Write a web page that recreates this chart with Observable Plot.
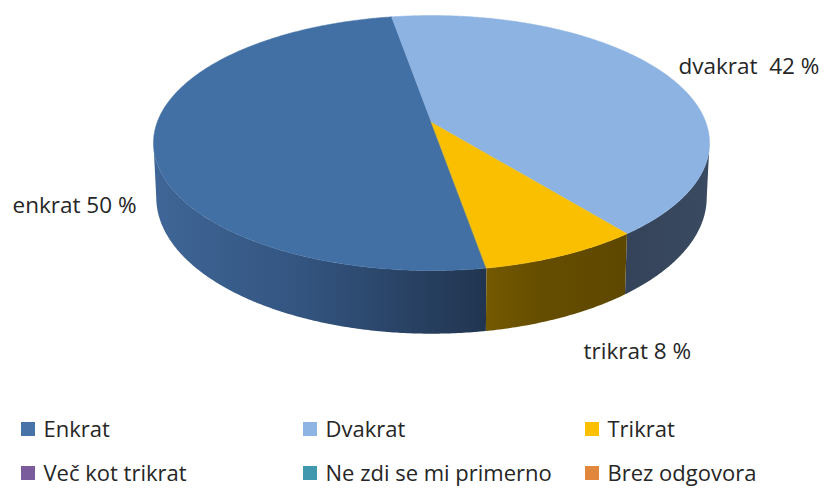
<!DOCTYPE html>
<html>
<head>
<meta charset="utf-8">
<script src="https://cdn.jsdelivr.net/npm/d3@7"></script>
<script src="https://cdn.jsdelivr.net/npm/@observablehq/plot@0.6"></script>
<style>
  html, body { margin: 0; padding: 0; background: #fff; }
  #chart svg { display: block; }
</style>
</head>
<body>
<div id="chart"></div>
<script>
// ---- data ----
const categories = ["Enkrat", "Dvakrat", "Trikrat", "Več kot trikrat", "Ne zdi se mi primerno", "Brez odgovora"];
const values = [50, 42, 8, 0, 0, 0];
const sliceLabels = ["enkrat 50 %", "dvakrat  42 %", "trikrat 8 %"];

// ---- styles ----
const topColors = ["#4370a4", "#8db3e2", "#fac000"];
const wallFills = ["url(#gEnk)", "url(#gDva)", "url(#gTri)"];
const legendColors = ["#4773a8", "#8db4e2", "#fdc000", "#7a5c9c", "#4098ae", "#e0873d"];
const font = "'Open Sans', 'DejaVu Sans', sans-serif";

// ---- perspective pie geometry ----
const W = 827, H = 488;
const cx = 431, cy = 122;     // projected centre of the top disc
const s = 274.4, s2 = 124.2;  // horizontal / vertical radius scale
const k = 0.161;              // perspective strength
const depth = 53;             // wall depth
const rad = Math.PI / 180;
const startDeg = 80.3;

function P(deg, z) {
  const t = deg * rad;
  const den = 1 - k * Math.sin(t);
  const f = z ? 0.99 : 1;
  return {
    x: cx + f * s * Math.cos(t) / den,
    y: cy + s2 * Math.sin(t) / den + z * depth / den
  };
}
function arc(a0, a1, z) {
  const pts = [];
  const n = Math.max(2, Math.ceil(Math.abs(a1 - a0) / 0.5));
  for (let i = 0; i <= n; i++) pts.push(P(a0 + (a1 - a0) * i / n, z));
  return pts;
}

const total = d3.sum(values);
const slices = [];
let acc = startDeg;
values.forEach((v, i) => {
  if (v <= 0) return;
  const a0 = acc, a1 = acc + v / total * 360;
  acc = a1;
  slices.push({i, a0, a1});
});

const visLo = Math.asin(k) / rad, visHi = 180 - visLo;
const marks = [];

// walls
slices.forEach(({i, a0, a1}) => {
  for (const off of [0, 360]) {
    const lo = Math.max(a0, visLo + off), hi = Math.min(a1, visHi + off);
    if (hi > lo) {
      const pts = [...arc(lo, hi, 0), ...arc(hi, lo, 1)];
      marks.push(Plot.line(pts, {x: "x", y: "y", curve: "linear-closed", fill: wallFills[i], stroke: "none"}));
    }
  }
});
// top faces
slices.forEach(({i, a0, a1}) => {
  const pts = [{x: cx, y: cy}, ...arc(a0, a1, 0)];
  marks.push(Plot.line(pts, {x: "x", y: "y", curve: "linear-closed", fill: topColors[i], stroke: topColors[i], strokeWidth: 0.5}));
});

// slice labels (layout)
const labelPos = [{x: 12, y: 205}, {x: 678, y: 66}, {x: 583, y: 351}];
const labelData = sliceLabels.map((t, i) => ({t, ...labelPos[i]}));
marks.push(Plot.text(labelData, {x: "x", y: "y", text: "t", textAnchor: "start", fontSize: 22.5, fill: "#262626", fontFamily: font}));

// legend (layout: 3 columns x 2 rows)
const legendData = categories.map((c, i) => {
  const col = i % 3, row = Math.floor(i / 3);
  const x1 = 21 + col * 282, y1 = 422 + row * 44;
  return {c, i, x1, x2: x1 + 14, y1, y2: y1 + 14, tx: x1 + 22, ty: y1 + 7};
});
marks.push(Plot.rect(legendData, {x1: "x1", x2: "x2", y1: "y1", y2: "y2", fill: d => legendColors[d.i]}));
marks.push(Plot.text(legendData, {x: "tx", y: "ty", text: "c", textAnchor: "start", fontSize: 22, fill: "#262626", fontFamily: font}));

const chart = Plot.plot({
  width: W, height: H,
  margin: 0,
  style: {background: "#fff", fontFamily: font},
  x: {domain: [0, W], range: [0, W], axis: null},
  y: {domain: [0, H], range: [0, H], axis: null},
  color: {type: "identity"},
  marks
});

// gradients for the wall shading
const defs = d3.select(chart).insert("defs", ":first-child");
function grad(id, stops) {
  const g = defs.append("linearGradient").attr("id", id).attr("x1", "0").attr("x2", "1").attr("y1", "0").attr("y2", "0");
  stops.forEach(([o, c]) => g.append("stop").attr("offset", o).attr("stop-color", c));
}
grad("gEnk", [[0, "#3f6697"], [0.45, "#33547f"], [1, "#213550"]]);
grad("gTri", [[0, "#745900"], [0.4, "#654d00"], [1, "#5e4800"]]);
grad("gDva", [[0, "#34435a"], [1, "#3a4a60"]]);

document.getElementById("chart").appendChild(chart);
</script>
</body>
</html>
